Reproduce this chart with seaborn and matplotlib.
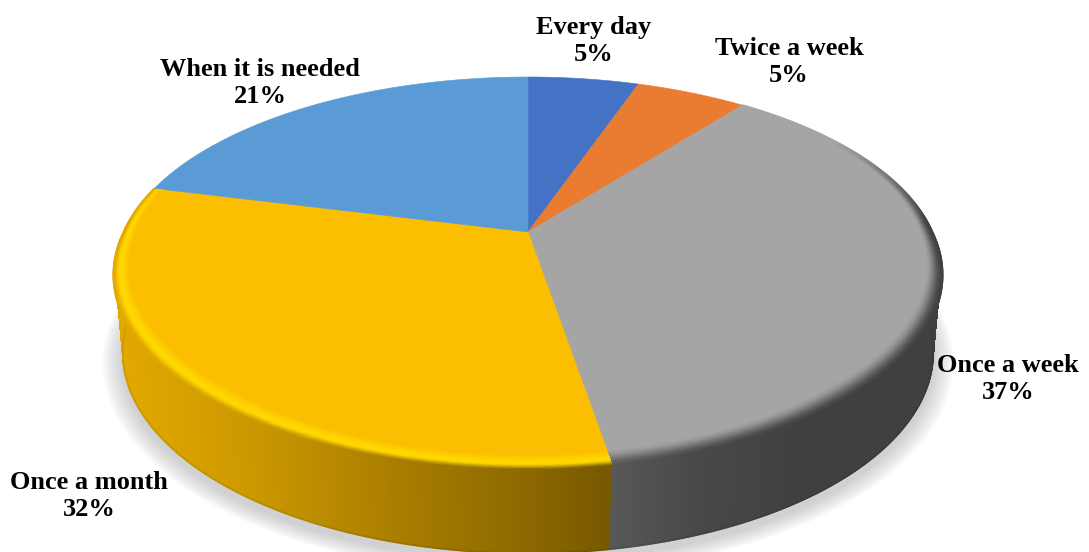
import numpy as np
import seaborn as sns
import matplotlib.pyplot as plt
from matplotlib.collections import LineCollection
from matplotlib.path import Path
from matplotlib.transforms import Affine2D, Transform

categories = ['Every day', 'Twice a week', 'Once a week', 'Once a month', 'When it is needed']
answers = [1, 1, 7, 6, 4]
slice_colors = ['#4472C4', '#E97C30', '#A5A5A5', '#FBBE00', '#5B9BD5']

# label centres in pixels
label_pos = [(594, 41), (789, 62), (1008, 379), (89, 496), (260, 83)]

W, H = 1089, 552


def project(u, v, cy=232.0, ax_x=404.5, ax_y=186.0, k=0.2):
    # flat disc seen in perspective, pixels out
    w = 1 + k * v
    return 528 + ax_x * u / w, cy - ax_y * v / w


def project_low(u, v):
    # same disc but the bottom face
    return project(u, v, cy=312.0, ax_x=397.0, ax_y=193.0)


class Tilt(Transform):
    input_dims = 2
    output_dims = 2

    def transform_non_affine(self, values):
        x, y = project(values[:, 0], values[:, 1])
        return np.column_stack([x, y])

    def transform_path_non_affine(self, path):
        polys = path.to_polygons(Affine2D().scale(3000), closed_only=True)
        pts = polys[0] / 3000
        return Path(self.transform_non_affine(pts), closed=True)


def unit(theta, r=1.0):
    t = np.deg2rad(theta)
    return r * np.cos(t), r * np.sin(t)


def wall_rgb(x, name):
    if name == 'Once a month':
        c = np.interp(x, [113, 250, 400, 520, 609], [1.0, 0.9, 0.74, 0.62, 0.52])
        return np.column_stack([228 * c, 170 * c, 0 * c]) / 255
    g = np.interp(x, [609, 700, 800], [88, 72, 64])
    return np.column_stack([g, g, g]) / 255


def bevel_rgb(s, strength, x, name):
    # s goes 0 (flat top) to 1 (outer edge)
    s = s[..., None]
    strength = strength[..., None]
    out = wall_rgb(x.ravel(), name).reshape(x.shape + (3,))
    if name == 'Once a month':
        base = np.array([251, 190, 0]) / 255
        hi = np.array([255, 216, 0]) / 255
        a = np.sin(np.clip(s / 0.6, 0, 1) * np.pi / 2) ** 2
        b = np.sin(np.clip((s - 0.6) / 0.4, 0, 1) * np.pi / 2) ** 2
        rgb = base + (hi - base) * a
        rgb = rgb + (out - rgb) * b
    else:
        base = np.array([165, 165, 165]) / 255
        rgb = base + (out - base) * np.sin(s * np.pi / 2) ** 2
    return base + (rgb - base) * strength


sns.set_theme(style='white')
plt.rcParams['font.family'] = ['Liberation Serif', 'DejaVu Serif']

fig = plt.figure(figsize=(W / 100, H / 100), dpi=100)
ax = fig.add_axes([0, 0, 1, 1])

wedges, _ = ax.pie(answers, colors=sns.color_palette(slice_colors), startangle=90,
                   counterclock=False, radius=1.0, center=(0, 0),
                   wedgeprops={'linewidth': 0.4, 'zorder': 3})
ax.set_aspect('auto')
ax.set_xlim(0, W)
ax.set_ylim(H, 0)
ax.axis('off')

tilt = Tilt()
for wd, col in zip(wedges, slice_colors):
    wd.set_transform(tilt + ax.transData)
    wd.set_edgecolor(col)

# soft shadow under the disc
th = np.linspace(0, 360, 361)
for i in range(14):
    grow = 1.048 - i * 0.0035
    u, v = unit(th, grow)
    sx, sy = project_low(u, v)
    ax.fill(sx, sy + 7, color='#707070', alpha=0.024, lw=0, zorder=1)

for wd, name in zip(wedges, categories):
    if name not in ('Once a week', 'Once a month'):
        continue
    th = np.linspace(wd.theta1, wd.theta2, 500)

    # side wall
    u, v = unit(th, 1.0)
    top_x, top_y = project(u, v)
    low_x, low_y = project_low(u, v)
    xx = np.column_stack([top_x, low_x]).T
    yy = np.column_stack([top_y, low_y]).T
    rgb = wall_rgb(0.5 * (low_x[:-1] + low_x[1:]), name)
    ax.pcolormesh(xx, yy, rgb[None, :, :], shading='flat', antialiased=False,
                  linewidth=0, zorder=2)
    pts = np.column_stack([low_x, low_y])
    segs = np.stack([pts[:-1], pts[1:]], axis=1)
    ax.add_collection(LineCollection(segs, colors=rgb * 0.93, linewidths=1.3, zorder=2.1,
                                     capstyle='round'))

    # rounded edge of the top face
    s = np.linspace(0, 1, 30)
    tt, ss = np.meshgrid(th, s)
    uu, vv = unit(tt)
    width = 0.024 + 0.046 * np.clip(0.25 - vv, 0, 1) / 1.25
    outer = 1 + 0.02 * np.clip(-vv, 0, 1)
    inner = outer - width
    rr = inner + (outer - inner) * ss
    bx, by = project(uu * rr, vv * rr)
    strength = np.clip((0.55 - vv) / 0.5, 0, 1)
    mid_x = 0.25 * (bx[:-1, :-1] + bx[1:, :-1] + bx[:-1, 1:] + bx[1:, 1:])
    colors = bevel_rgb(0.5 * (ss[:-1, :-1] + ss[1:, :-1]), strength[:-1, :-1], mid_x, name)
    colors = np.clip(colors, 0, 1)
    ax.pcolormesh(bx, by, colors, shading='flat', antialiased=False, linewidth=0, zorder=4)

    # smooth out the outer rim
    rim = np.column_stack([bx[-1], by[-1]])
    segs = np.stack([rim[:-1], rim[1:]], axis=1)
    ax.add_collection(LineCollection(segs, colors=colors[-1], linewidths=1.2, zorder=4.1,
                                     capstyle='round'))

# labels
total = sum(answers)
for name, val, (lx, ly) in zip(categories, answers, label_pos):
    pct = round(100 * val / total)
    ax.text(lx, ly, f'{name}\n{pct}%', ha='center', va='center', fontsize=19,
            fontweight='bold', color='black', linespacing=1.2, zorder=6)

plt.savefig('out.png', dpi=100)
